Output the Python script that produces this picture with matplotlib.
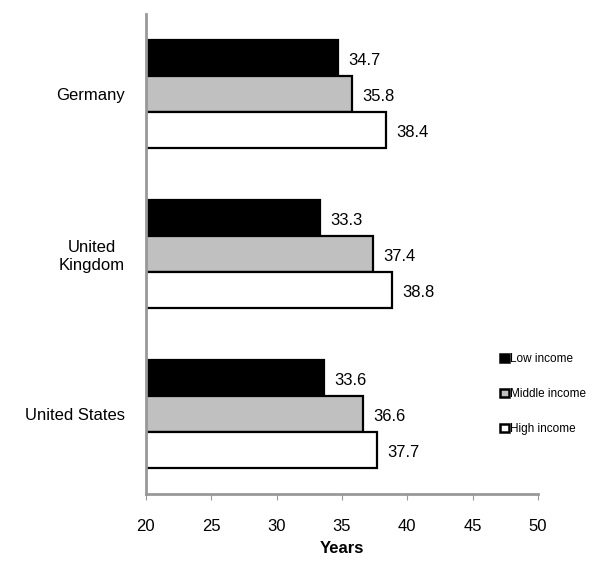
import matplotlib.pyplot as plt
import numpy as np

plt.rcParams['font.family'] = ['Liberation Sans', 'DejaVu Sans']

countries = ['Germany', 'United\nKingdom', 'United States']
series = ['Low income', 'Middle income', 'High income']
low = [34.7, 33.3, 33.6]
middle = [35.8, 37.4, 36.6]
high = [38.4, 38.8, 37.7]
colors = ['#000000', '#c0c0c0', '#ffffff']

fig = plt.figure(figsize=(6.03, 5.63), dpi=100)
ax = fig.add_axes([0.242, 0.123, 0.65, 0.853])

y = np.arange(len(countries))
h = 0.225
base = 20
for i, (vals, c, name) in enumerate(zip([low, middle, high], colors, series)):
    pos = y + (i - 1) * h
    widths = [v - base for v in vals]
    ax.barh(pos, widths, height=h, left=base, color=c, edgecolor='black',
            linewidth=1.6, label=name)
    for p, v in zip(pos, vals):
        ax.text(v + 0.8, p + 0.02, f'{v:.1f}', va='center', ha='left', fontsize=12)

ax.set_xlim(20, 50)
ax.set_ylim(2.5, -0.5)
ax.set_xticks(range(20, 51, 5))
ax.set_yticks(y)
ax.set_yticklabels(countries, fontsize=12, multialignment='center')
ax.tick_params(axis='y', length=0, pad=15)
ax.tick_params(axis='x', labelsize=12, length=4, color='#999999', pad=14)
ax.set_xlabel('Years', fontsize=12, fontweight='bold', labelpad=5)

for s in ['top', 'right']:
    ax.spines[s].set_visible(False)
for s in ['left', 'bottom']:
    ax.spines[s].set_color('#999999')
    ax.spines[s].set_linewidth(2)

leg = fig.legend(loc='upper left', bbox_to_anchor=(0.812, 0.392), frameon=False,
                 fontsize=8.5, handlelength=0.7, handleheight=0.7,
                 handletextpad=0.1, labelspacing=1.95)
for p in leg.get_patches():
    p.set_linewidth(1.8)

fig.savefig('out.png', dpi=100)
